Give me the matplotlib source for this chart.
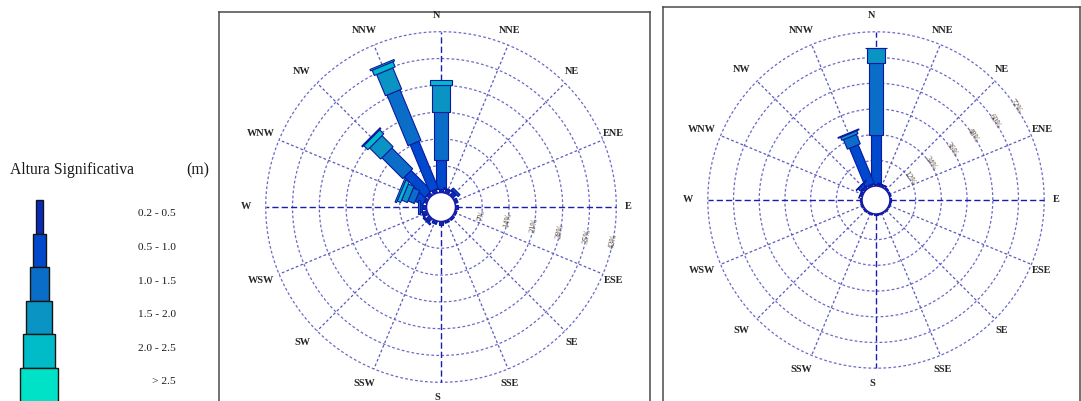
import numpy as np
import matplotlib
matplotlib.use('Agg')
import matplotlib.pyplot as plt
from matplotlib.patches import Polygon, Circle, Rectangle

# ---------------- data ----------------
directions = ['N', 'NNE', 'NE', 'ENE', 'E', 'ESE', 'SE', 'SSE',
              'S', 'SSW', 'SW', 'WSW', 'W', 'WNW', 'NW', 'NNW']
classes = ['0.2 - 0.5', '0.5 - 1.0', '1.0 - 1.5', '1.5 - 2.0', '2.0 - 2.5', '> 2.5']
class_colors = ['#0a2ab8', '#0048cc', '#0a6ec8', '#0a94c4', '#00bcc8', '#00e2c8']

# left rose: frequency (%) per height class, per direction
left_c1 = [1.0, 1.0, 1.3, 0.8, 0.6, 0.5, 0.6, 0.6, 0.8, 0.9, 1.2, 1.1, 1.2, 0.8, 1.0, 1.0]
left_c2 = [7.5, 0.2, 0.7, 0, 0, 0, 0, 0, 0, 0, 0.4, 0.3, 0.6, 2.2, 7.5, 13.3]
left_c3 = [12.6, 0, 0, 0, 0, 0, 0, 0, 0, 0, 0, 0, 0.3, 1.8, 7.7, 14.3]
left_c4 = [7.0, 0, 0, 0, 0, 0, 0, 0, 0, 0, 0, 0, 0, 1.6, 4.1, 6.0]
left_c5 = [1.3, 0, 0, 0, 0, 0, 0, 0, 0, 0, 0, 0, 0, 1.0, 1.5, 1.5]
left_c6 = [0, 0, 0, 0, 0, 0, 0, 0, 0, 0, 0, 0, 0, 0.4, 0.3, 0.4]
left_rings = [7, 14, 21, 28, 35, 42]

# right rose
right_c1 = [1.0, 1.0, 0.8, 0.7, 0.7, 0.6, 0.6, 0.6, 0.7, 0.7, 0.7, 0.8, 0.9, 1.0, 1.5, 1.0]
right_c2 = [22.8, 0.2, 0, 0, 0, 0, 0, 0, 0, 0, 0, 0, 0, 0.3, 1.5, 19.5]
right_c3 = [33.5, 0, 0, 0, 0, 0, 0, 0, 0, 0, 0, 0, 0, 0, 0.3, 4.8]
right_c4 = [7.0, 0, 0, 0, 0, 0, 0, 0, 0, 0, 0, 0, 0, 0, 0, 1.5]
right_c5 = [0.3, 0, 0, 0, 0, 0, 0, 0, 0, 0, 0, 0, 0, 0, 0, 0.4]
right_c6 = [0, 0, 0, 0, 0, 0, 0, 0, 0, 0, 0, 0, 0, 0, 0, 0]
right_rings = [12, 24, 36, 48, 60, 72]

left_series = [left_c1, left_c2, left_c3, left_c4, left_c5, left_c6]
right_series = [right_c1, right_c2, right_c3, right_c4, right_c5, right_c6]

# ---------------- styling ----------------
W, H = 1081, 401
SERIF = ['Liberation Serif', 'DejaVu Serif']
bar_width_px = [4.5, 9.5, 14.0, 17.5, 22.5, 26.0]
bar_edge = '#0b1a9e'
ring_color = '#6a6ac8'
spoke_color = '#5a5abf'
axis_color = '#1c1cb0'
frame_color = '#4a4a4a'

fig = plt.figure(figsize=(W / 100, H / 100), dpi=100)
fig.patch.set_facecolor('white')


def make_axes(x0, y0, x1, y1, cx, cy, s):
    ax = fig.add_axes([x0 / W, 1 - y1 / H, (x1 - x0) / W, (y1 - y0) / H])
    ax.set_xlim((x0 - cx) / s, (x1 - cx) / s)
    ax.set_ylim((cy - y1) / s, (cy - y0) / s)
    ax.set_xticks([])
    ax.set_yticks([])
    for sp in ax.spines.values():
        sp.set_color(frame_color)
        sp.set_linewidth(1.1)
    return ax


def draw_rose(ax, series, rings, s, hole_px, label_r, label_dx, ring_label_bearing,
              ring_label_rot):
    hole = hole_px / s
    outer = hole + rings[-1]
    ang = np.deg2rad(np.arange(len(directions)) * 22.5)
    # rings
    t = np.linspace(0, 2 * np.pi, 400)
    for rv in rings:
        R = hole + rv
        ax.plot(R * np.cos(t), R * np.sin(t), color=ring_color, lw=0.9,
                ls=(0, (2.2, 1.8)), zorder=1)
    # spokes
    for i, a in enumerate(ang):
        u = np.array([np.sin(a), np.cos(a)])
        if i % 4 == 0:
            ax.plot([hole * u[0], outer * u[0]], [hole * u[1], outer * u[1]],
                    color=axis_color, lw=1.0, ls=(0, (4.5, 2.2)), zorder=1.5)
        else:
            ax.plot([hole * u[0], outer * u[0]], [hole * u[1], outer * u[1]],
                    color=spoke_color, lw=0.9, ls=(0, (2.2, 1.8)), zorder=1)
    # bars
    for i, a in enumerate(ang):
        u = np.array([np.sin(a), np.cos(a)])
        v = np.array([np.cos(a), -np.sin(a)])
        r0 = hole - 1.0
        cum = hole
        for k, vals in enumerate(series):
            val = vals[i]
            if val <= 0:
                continue
            r1 = cum + val
            hw = bar_width_px[k] / s / 2
            pts = [u * r0 - v * hw, u * r1 - v * hw, u * r1 + v * hw, u * r0 + v * hw]
            ax.add_patch(Polygon(pts, closed=True, facecolor=class_colors[k],
                                 edgecolor=bar_edge, lw=0.8, zorder=3 + k * 0.01))
            r0 = cum = r1
    # hole
    ax.add_patch(Circle((0, 0), hole, facecolor='white', edgecolor='#1a1aa8',
                        lw=1.1, zorder=6))
    # direction labels
    for name, a in zip(directions, ang):
        ax.text(label_r * np.sin(a) + label_dx, label_r * np.cos(a), name,
                ha='center', va='center', fontsize=7.4, family=SERIF,
                fontweight='bold', color='#262626', zorder=7)
    # ring labels
    b = np.deg2rad(ring_label_bearing)
    for rv in rings:
        R = hole + rv
        ax.text(R * np.sin(b), R * np.cos(b), f'{rv}%', ha='center', va='center',
                rotation=ring_label_rot, rotation_mode='anchor', fontsize=6.0,
                family=SERIF, color='#5e4e38', zorder=7)


# left rose
sL = 26.8 / 7.0
axL = make_axes(219, 12, 650, 412, 441, 207, sL)
draw_rose(axL, left_series, left_rings, sL, 14.5, 191 / sL, -4 / sL, 101.25, 78.75)

# right rose
sR = 25.7 / 12.0
axR = make_axes(663, 7, 1080, 412, 876, 200, sR)
draw_rose(axR, right_series, right_rings, sR, 14.0, 184 / sR, -4 / sR, 56.25, -56.25)

# ---------------- legend ----------------
axG = fig.add_axes([0, 0, 219 / W, 1])
axG.set_xlim(0, 219)
axG.set_ylim(H, 0)
axG.axis('off')
axG.text(10, 170, 'Altura Significativa', ha='left', va='center', fontsize=11.3,
         family=SERIF, color='#1a1a1a')
axG.text(198, 170, '(m)', ha='center', va='center', fontsize=11.3,
         family=SERIF, color='#1a1a1a')
box_top, box_h, box_cx = 200.0, 33.6, 39.2
for k, (lab, col) in enumerate(zip(classes, class_colors)):
    w = 7 + 6.2 * k
    y = box_top + k * box_h
    axG.add_patch(Rectangle((box_cx - w / 2, y), w, box_h, facecolor=col,
                            edgecolor='#151515', lw=1.0))
    axG.text(176, y + box_h / 2 - 3, lab, ha='right', va='center', fontsize=8.2,
             family=SERIF, color='#1a1a1a')

fig.savefig('out.png', dpi=100, facecolor='white')
